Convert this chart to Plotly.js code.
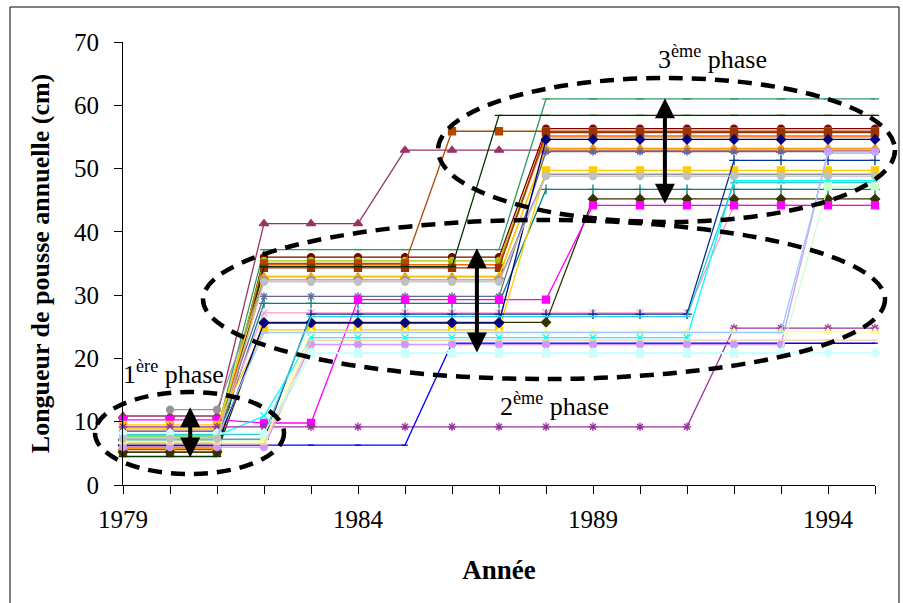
<!DOCTYPE html>
<html><head><meta charset="utf-8">
<script src="https://cdn.plot.ly/plotly-3.0.1.min.js"></script>
<style>html,body{margin:0;padding:0;background:#fff}#chart{width:903px;height:603px}</style>
</head><body><div id="chart"></div>
<script>
const years = [1979,1980,1981,1982,1983,1984,1985,1986,1987,1988,1989,1990,1991,1992,1993,1994,1995];
const xTickLabels = ["1979","1984","1989","1994"];

const s01 = [10.9,10.9,10.9,41.3,41.3,41.3,52.9,52.9,52.9,52.9,52.9,52.9,52.9,52.9,52.9,52.9,52.9];
const s02 = [8.5,8.5,8.5,37.2,37.2,37.2,37.2,37.2,37.2,61.0,61.0,61.0,61.0,61.0,61.0,61.0,61.0];
const s03 = [6.0,6.0,6.0,36.0,36.0,36.0,36.0,36.0,36.0,56.3,56.3,56.3,56.3,56.3,56.3,56.3,56.3];
const s04 = [7.6,7.6,7.6,35.4,35.4,35.4,35.4,35.4,35.4,55.2,55.2,55.2,55.2,55.2,55.2,55.2,55.2];
const s05 = [6.6,6.6,6.6,34.8,34.8,34.8,34.8,34.8,34.8,55.0,55.0,55.0,55.0,55.0,55.0,55.0,55.0];
const s06 = [5.6,5.6,5.6,35.0,35.0,35.0,35.0,55.9,55.9,55.9,55.9,55.9,55.9,55.9,55.9,55.9,55.9];
const s07 = [5.2,5.2,5.2,34.3,34.3,34.3,34.3,34.3,34.3,55.7,55.7,55.7,55.7,55.7,55.7,55.7,55.7];
const s08 = [4.5,4.5,4.5,34.5,34.5,34.5,34.5,34.5,58.4,58.4,58.4,58.4,58.4,58.4,58.4,58.4,58.4];
const s09 = [5.8,5.8,5.8,32.9,32.9,32.9,32.9,32.9,32.9,53.2,53.2,53.2,53.2,53.2,53.2,53.2,53.2];
const s10 = [9.0,9.0,9.0,33.0,33.0,33.0,33.0,33.0,33.0,53.0,53.0,53.0,53.0,53.0,53.0,53.0,53.0];
const s11 = [null,11.9,11.9,32.4,32.4,32.4,32.4,32.4,32.4,49.1,49.1,49.1,49.1,49.1,49.1,49.1,49.1];
const s12 = [8.5,8.5,8.5,29.8,29.8,29.8,29.8,29.8,29.8,52.7,52.7,52.7,52.7,52.7,52.7,52.7,52.7];
const s13 = [7.0,7.0,7.0,28.7,28.7,28.7,28.7,28.7,28.7,46.7,46.7,46.7,46.7,46.7,46.7,46.7,46.7];
const s14 = [8.7,8.7,8.7,27.2,27.2,27.2,27.2,27.2,27.2,27.2,27.2,27.2,27.2,44.2,44.2,44.2,44.2];
const s15 = [5.2,5.2,5.2,25.7,25.7,25.7,25.7,25.7,25.7,25.7,45.2,45.2,45.2,45.2,45.2,45.2,45.2];
const s16 = [10.3,10.3,10.3,9.8,9.8,29.3,29.3,29.3,29.3,29.3,44.2,44.2,44.2,44.2,44.2,44.2,44.2];
const s17 = [9.5,9.5,9.5,24.5,24.5,24.5,24.5,24.5,24.5,49.7,49.7,49.7,49.7,49.7,49.7,49.7,49.7];
const s18 = [6.3,6.3,6.3,25.6,25.6,25.6,25.6,25.6,25.6,54.6,54.6,54.6,54.6,54.6,54.6,54.6,54.6];
const s19 = [7.2,7.2,7.2,7.2,27.0,27.0,27.0,27.0,27.0,27.0,27.0,27.0,27.0,51.3,51.3,51.3,51.3];
const s20 = [7.8,7.8,7.8,10.9,23.3,23.3,23.3,23.3,23.3,23.3,23.3,23.3,23.3,48.1,48.1,48.1,48.1];
const s21 = [8.0,8.0,8.0,8.0,26.6,26.6,26.6,26.6,26.6,26.6,26.6,26.6,26.6,47.8,47.8,47.8,47.8];
const s22 = [9.2,9.2,9.2,9.2,9.2,9.2,9.2,9.2,9.2,9.2,9.2,9.2,9.2,24.8,24.8,24.8,24.8];
const s23 = [6.3,6.3,6.3,6.3,6.3,6.3,6.3,22.4,22.4,22.4,22.4,22.4,22.4,22.4,22.4,22.4,22.4];
const s24 = [6.0,6.0,6.0,6.0,22.2,22.2,22.2,22.2,22.2,22.2,22.2,22.2,22.2,22.2,22.2,52.7,52.7];
const s25 = [7.1,7.1,7.1,7.1,20.8,20.8,20.8,20.8,20.8,20.8,20.8,20.8,20.8,20.8,20.8,47.2,47.2];
const s26 = [6.8,6.8,6.8,6.8,24.2,24.2,24.2,24.2,24.2,24.2,24.2,24.2,24.2,24.2,24.2,24.2,24.2];
const s27 = [6.5,6.5,6.5,6.5,22.9,22.9,22.9,22.9,22.9,22.9,22.9,22.9,22.9,22.9,22.9,22.9,22.9];
const s28 = [8.2,8.2,8.2,8.2,20.9,20.9,20.9,20.9,20.9,20.9,20.9,20.9,20.9,20.9,20.9,20.9,20.9];
const s29 = [7.4,7.4,7.4,24.1,24.1,24.1,24.1,24.1,24.1,24.1,24.1,24.1,24.1,24.1,24.1,52.4,52.4];
const s30 = [7.3,7.3,7.3,32.1,32.1,32.1,32.1,32.1,32.1,48.8,48.8,48.8,48.8,48.8,48.8,48.8,48.8];

const styles = [
  [s01,'#993366','triangle-up',8],
  [s02,'#339966','line-ew',6],
  [s03,'#800000','circle',7],
  [s04,'#99CC00','circle',7],
  [s05,'#FF6600','x-thin',6],
  [s06,'#B34700','square',7],
  [s07,'#993300','square',7],
  [s08,'#003300','line-ew',6],
  [s09,'#FF9900','triangle-up',8],
  [s10,'#FFCC00','line-ew',4],
  [s11,'#969696','circle',7],
  [s12,'#666699','asterisk',7],
  [s13,'#008080','cross-thin',7],
  [s14,'#FF99CC','x-thin',7],
  [s15,'#333300','diamond',7],
  [s16,'#FF00FF','square',7],
  [s17,'#FFCC00','square',7],
  [s18,'#000080','diamond',7],
  [s19,'#003399','cross-thin',7],
  [s20,'#00FFFF','x-thin',7],
  [s21,'#33CCCC','line-ew',5],
  [s22,'#993399','asterisk',7],
  [s23,'#0000FF','line-ew',4],
  [s24,'#CC99FF','circle',7],
  [s25,'#CCFFCC','square',7],
  [s26,'#FFFF99','triangle-up',7],
  [s27,'#FFCC99','line-ew',4],
  [s28,'#CCFFFF','diamond',7],
  [s29,'#99CCFF','line-ew',4],
  [s30,'#C0C0C0','circle',7]
];

const traces = styles.map(([vals,color,symbol,size]) => ({
  type:'scatter', mode:'lines+markers', x: years, y: vals,
  line:{color: color, width: 1.3},
  marker:{color: color, symbol: symbol, size: size, line:{color: color, width: 1.3}},
  cliponaxis:false, showlegend:false, hoverinfo:'skip', connectgaps:false
}));

const serif = 'Liberation Serif, Times New Roman, serif';
const ell = {type:'circle', xref:'paper', yref:'paper', line:{color:'#000', width:4.5, dash:'14px,9px'}, layer:'above'};

const layout = {
  width:903, height:603,
  margin:{l:123, r:28, t:42, b:118},
  paper_bgcolor:'#fff', plot_bgcolor:'#fff',
  font:{family: serif, color:'#000', size:24},
  xaxis:{range:[1979,1995], tickvals:[1979,1984,1989,1994], ticktext:xTickLabels,
    ticks:'outside', ticklen:8, tickcolor:'#000', showline:true, linecolor:'#000', linewidth:1,
    showgrid:false, zeroline:false, ticklabelstandoff:4,
    minor:{dtick:1, ticks:'outside', ticklen:8, tickcolor:'#000', showgrid:false},
    tickfont:{family: serif, size:25},
    title:{text:'<b>Année</b>', font:{family: serif, size:27}, standoff:28}},
  yaxis:{range:[0,70], dtick:10, ticks:'outside', ticklen:8, tickcolor:'#000',
    showline:true, linecolor:'#000', linewidth:1, showgrid:false, zeroline:false,
    ticklabelstandoff:10,
    tickfont:{family: serif, size:25},
    title:{text:'<b>Longueur de pousse annuelle (cm)</b>', font:{family: serif, size:26}, standoff:16}},
  shapes:[
    {type:'rect', xref:'paper', yref:'paper', x0:-0.1503, x1:1.0319, y0:-0.2686, y1:1.079, line:{color:'#000', width:1}},
    Object.assign({x0:-0.0372, x1:0.2141, y0:0.0248, y1:0.2099}, ell),
    Object.assign({x0:0.1064, x1:1.0133, y0:0.2393, y1:0.5982}, ell),
    Object.assign({x0:0.4189, x1:1.0266, y0:0.5937, y1:0.9187}, ell)
  ],
  annotations:[
    {xref:'paper', yref:'paper', x:-0.003, y:0.255, xanchor:'left', yanchor:'middle', showarrow:false,
     text:'1<sup>ère</sup> phase', font:{family: serif, size:26}},
    {xref:'paper', yref:'paper', x:0.499, y:0.1806, xanchor:'left', yanchor:'middle', showarrow:false,
     text:'2<sup>ème</sup> phase', font:{family: serif, size:26}},
    {xref:'paper', yref:'paper', x:0.709, y:0.966, xanchor:'left', yanchor:'middle', showarrow:false,
     text:'3<sup>ème</sup> phase', font:{family: serif, size:26}},
    {xref:'x', yref:'y', axref:'x', ayref:'y', x:1980.43, y:12.3, ax:1980.43, ay:4.1, text:'',
     showarrow:true, arrowside:'end+start', arrowhead:2, arrowsize:1, arrowwidth:4, arrowcolor:'#000'},
    {xref:'x', yref:'y', axref:'x', ayref:'y', x:1986.53, y:37.4, ax:1986.53, ay:20.7, text:'',
     showarrow:true, arrowside:'end+start', arrowhead:2, arrowsize:1, arrowwidth:4, arrowcolor:'#000'},
    {xref:'x', yref:'y', axref:'x', ayref:'y', x:1990.53, y:61.1, ax:1990.53, ay:44.2, text:'',
     showarrow:true, arrowside:'end+start', arrowhead:2, arrowsize:1, arrowwidth:4, arrowcolor:'#000'}
  ]
};

Plotly.newPlot('chart', traces, layout, {staticPlot:true, displayModeBar:false});
</script>
</body></html>
